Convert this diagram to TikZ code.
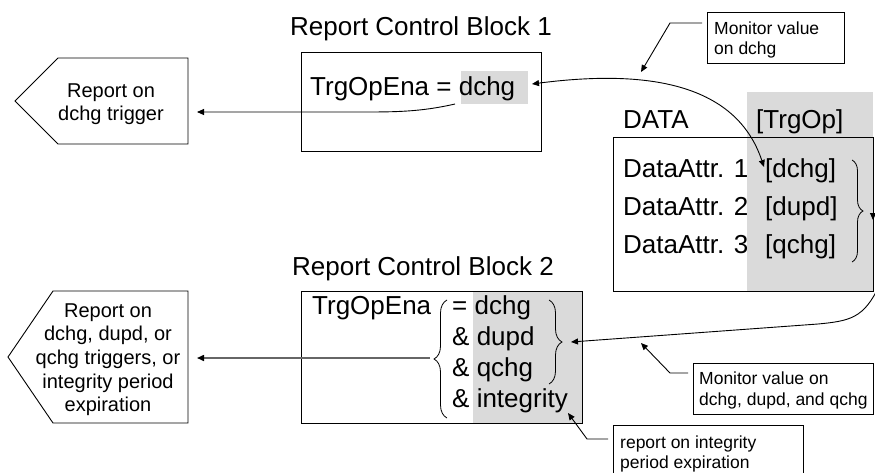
\documentclass[tikz,border=0pt]{standalone}
\usepackage{fontspec}
\setmainfont{Liberation Sans}
\usetikzlibrary{arrows.meta,decorations.pathreplacing}
\definecolor{greyfill}{RGB}{218,218,218}
\begin{document}
\begin{tikzpicture}[x=1pt,y=-1pt,
  >={Triangle[length=7pt,width=6pt]},
  big/.style={font=\fontsize{26}{30}\selectfont, inner sep=0pt, anchor=base west},
  mid/.style={font=\fontsize{20}{24}\selectfont, inner sep=0pt, anchor=base},
  small/.style={font=\fontsize{17.5}{20.5}\selectfont, inner sep=0pt, anchor=base west},
  frame/.style={draw=black, line width=0.9pt},
  boxnode/.style={frame, anchor=north west, inner sep=0pt},
  conn/.style={line width=0.9pt},
  brc/.style={decorate, decoration={brace, amplitude=#1}, line width=0.8pt},
]
\useasboundingbox (0,0) rectangle (875,472);

% grey shaded areas
\fill[greyfill] (461,71) rectangle (528,104);
\fill[greyfill] (747,92) rectangle (873,291);
\fill[greyfill] (473,291) rectangle (582,423);

% ---------- Report Control Block 1 ----------
\node[big] (rcb1title) at (290,35) {Report Control Block 1};
\node[boxnode, minimum width=240pt, minimum height=99pt] (rcb1) at (301,52) {};
\node[big] (rcb1txt) at (310,95) {TrgOpEna = dchg};

% pentagon 1
\draw[frame] (15,101) -- (58,58) -- (188,58) -- (188,144) -- (58,144) -- cycle;
\node[mid] (p1a) at (111,97) {Report on};
\node[mid] (p1b) at (111,120) {dchg trigger};

\coordinate (rcb1out) at (455,104);
\coordinate (p1in) at (197,112);
\draw[conn,->] (rcb1out) .. controls (420,112) and (395,112) .. (360,112) -- (p1in);

% monitor curve between RCB1 and DATA
\coordinate (rcb1in) at (532,84);
\coordinate (d1in) at (764,167);
\draw[conn,<->] (rcb1in) .. controls (640,70) and (735,80) .. (d1in);

% callout 1
\node[boxnode, minimum width=137pt, minimum height=51pt] (mon1) at (707,12) {};
\node[small] (mon1a) at (714,34) {Monitor value};
\node[small] (mon1b) at (714,54) {on dchg};
\coordinate (mon1s) at (702,23);
\coordinate (mon1k) at (670,23);
\coordinate (mon1t) at (641,72);
\draw[conn,->] (mon1s) -- (mon1k) -- (mon1t);

% ---------- DATA ----------
\node[big] (datatitle) at (623,128) {DATA};
\node[big] (trgop) at (756,128) {[TrgOp]};
\node[boxnode, minimum width=260pt, minimum height=154pt] (data) at (613,137) {};
\node[big] (da1) at (623,177) {DataAttr. 1};
\node[big] (da2) at (623,215) {DataAttr. 2};
\node[big] (da3) at (623,253) {DataAttr. 3};
\node[big] (dv1) at (765,177) {[dchg]};
\node[big] (dv2) at (765,215) {[dupd]};
\node[big] (dv3) at (765,253) {[qchg]};
\coordinate (db1) at (852,160);
\coordinate (db2) at (852,262);
\draw[brc=11pt] (db1) -- (db2);
\coordinate (dbs) at (873,203);
\coordinate (dbt) at (873,220);
\draw[conn,->] (dbs) -- (dbt);

% return curve to RCB2
\coordinate (cs) at (879,286);
\coordinate (rcb2in) at (571,342);
\draw[conn,->] (cs) .. controls (864,318) and (850,321) .. (818,324) -- (rcb2in);

% ---------- Report Control Block 2 ----------
\node[big] (rcb2title) at (292,275) {Report Control Block 2};
\node[boxnode, minimum width=281pt, minimum height=132pt] (rcb2) at (301,291) {};
\node[big] (rcb2txt) at (312,314) {TrgOpEna};
\node[big] (r2a) at (452,314) {= dchg};
\node[big] (r2b) at (452,345) {\& dupd};
\node[big] (r2c) at (452,376) {\& qchg};
\node[big] (r2d) at (452,407) {\& integrity};
\coordinate (rb1) at (549,300);
\coordinate (rb2) at (549,384);
\draw[brc=13pt] (rb1) -- (rb2);
\coordinate (lb1) at (447,418);
\coordinate (lb2) at (447,300);
\draw[brc=13pt] (lb1) -- (lb2);

% pentagon 2
\draw[frame] (8,357) -- (53,291) -- (188,291) -- (188,423) -- (53,423) -- cycle;
\node[mid] (p2a) at (108,317) {Report on};
\node[mid] (p2b) at (108,340.7) {dchg, dupd, or};
\node[mid] (p2c) at (108,364.4) {qchg triggers, or};
\node[mid] (p2d) at (108,388.1) {integrity period};
\node[mid] (p2e) at (108,411.8) {expiration};

\coordinate (lbout) at (430,358);
\coordinate (p2in) at (197,358);
\draw[line width=1.5pt, draw=black!60, -{Triangle[length=7pt,width=6pt,color=black]}] (lbout) -- (p2in);

% callout 2
\node[boxnode, minimum width=180pt, minimum height=51pt] (mon2) at (693,363) {};
\node[small] (mon2a) at (699,384) {Monitor value on};
\node[small] (mon2b) at (699,405) {dchg, dupd, and qchg};
\coordinate (mon2s) at (688,373);
\coordinate (mon2k) at (670,373);
\coordinate (mon2t) at (641,343);
\draw[conn,->] (mon2s) -- (mon2k) -- (mon2t);

% callout 3
\node[boxnode, minimum width=190pt, minimum height=60pt] (integ) at (613,425) {};
\node[small] (intega) at (620,448) {report on integrity};
\node[small] (integb) at (620,468) {period expiration};
\coordinate (integs) at (608,439);
\coordinate (integk) at (587,439);
\coordinate (integt) at (568,413);
\draw[conn,->] (integs) -- (integk) -- (integt);
\end{tikzpicture}
\end{document}
